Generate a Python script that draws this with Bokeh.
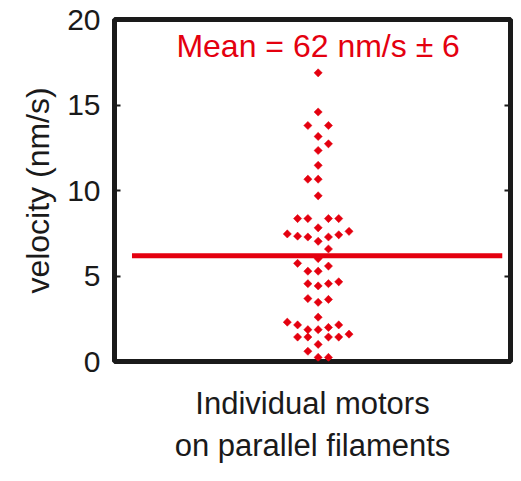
from bokeh.plotting import figure
from bokeh.models import LinearAxis, Label, FixedTicker, ColumnDataSource, CustomJSTickFormatter
from bokeh.embed import file_html
from bokeh.resources import INLINE

# velocity values (nm/s) and swarm column offsets
velocity = [16.88, 14.59, 13.80, 13.80, 13.16, 12.73, 12.34, 11.47, 10.66, 10.66,
            9.69, 8.36, 8.36, 8.36, 8.36, 7.82, 7.61, 7.46, 7.33, 7.28, 7.28, 7.41,
            7.03, 6.58, 6.02, 5.74, 5.58, 5.28, 5.28, 4.66, 4.55, 4.55, 4.42,
            3.68, 3.63, 3.46, 2.59, 2.30, 2.14, 2.14, 1.99, 1.86, 1.86, 1.60,
            1.43, 1.43, 1.43, 1.43, 1.00, 0.60, 0.24, 0.24]
column = [0, 0, -1, 1, 0, 1, 0, 0, -1, 0,
          0, -2, -1, 1, 2, 0, 3, -3, -2, -1, 1, 2,
          0, 1, 0, -2, 1, -1, 0, 2, -1, 1, 0,
          -1, 1, 0, 0, -3, -2, 2, 1, -1, 0, 3,
          -2, -1, 1, 2, 0, -1, 0, 1]
mean_value = 6.18
mean_text = "Mean = 62 nm/s \u00b1 6"
y_ticks = [0, 5, 10, 15, 20]
x_label = "Individual motors\non parallel filaments"
y_label = "velocity (nm/s)"

RED = "#e4000f"
FONT = "Liberation Sans"

p = figure(width=513, height=465, output_backend="svg", toolbar_location=None,
           x_range=(-19.8, 18.7), y_range=(0, 20),
           min_border_left=114, min_border_right=3, min_border_top=19, min_border_bottom=96,
           x_axis_location=None, y_axis_location=None)
p.xgrid.visible = False
p.ygrid.visible = False
p.outline_line_color = "#1a1a1a"
p.outline_line_width = 5
p.background_fill_color = "white"
p.border_fill_color = "white"

src = ColumnDataSource(dict(x=column, y=velocity))
p.scatter("x", "y", source=src, marker="square", size=5.8, angle=0.785398,
          fill_color=RED, line_color=RED, line_width=0.5)

p.segment(x0=[-18.1], y0=[mean_value], x1=[17.9], y1=[mean_value],
          line_color=RED, line_width=5)

def mk_y(labels=True):
    ax = LinearAxis(ticker=FixedTicker(ticks=y_ticks))
    ax.major_tick_in = 6
    ax.major_tick_out = 0
    ax.minor_tick_line_color = None
    ax.axis_line_color = None
    ax.major_tick_line_color = "#1a1a1a"
    ax.major_tick_line_width = 2
    if labels:
        ax.major_label_text_font = FONT
        ax.major_label_text_font_size = "30px"
        ax.major_label_text_color = "#1a1a1a"
        ax.major_label_standoff = 14
        ax.axis_label = y_label
        ax.axis_label_text_font = FONT
        ax.axis_label_text_font_size = "32px"
        ax.axis_label_text_font_style = "normal"
        ax.axis_label_text_color = "#1a1a1a"
        ax.axis_label_standoff = 8
    else:
        ax.formatter = CustomJSTickFormatter(code="return ''")
        ax.major_label_text_font_size = "0px"
        ax.major_label_standoff = 0
    return ax

p.add_layout(mk_y(True), "left")
p.add_layout(mk_y(False), "right")

xa = LinearAxis(ticker=FixedTicker(ticks=[]))
xa.axis_line_color = None
xa.major_tick_line_color = None
xa.minor_tick_line_color = None
xa.axis_label = x_label
xa.axis_label_text_font = FONT
xa.axis_label_text_font_size = "31px"
xa.axis_label_text_font_style = "normal"
xa.axis_label_text_color = "#1a1a1a"
xa.axis_label_text_line_height = 1.2
xa.axis_label_standoff = 24
p.add_layout(xa, "below")

p.add_layout(Label(x=0, y=18.44, text=mean_text, text_font=FONT, text_font_size="32px",
                   text_color=RED, text_align="center", text_baseline="middle"))

open("out.html", "w").write(file_html(p, INLINE))
